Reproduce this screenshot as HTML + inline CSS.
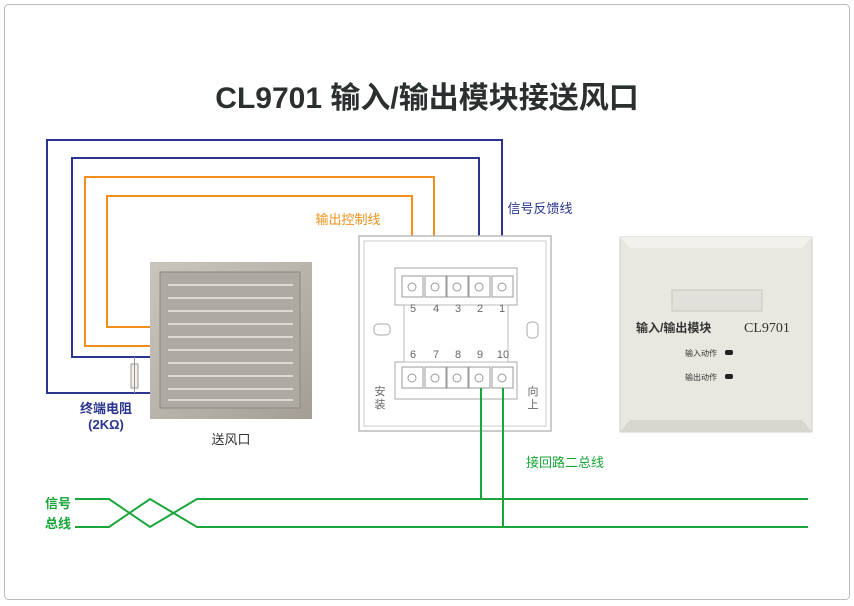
<!DOCTYPE html>
<html><head><meta charset="utf-8"><style>
body{margin:0;width:854px;height:606px;background:#fff;overflow:hidden;font-family:"Liberation Sans","Noto Sans CJK SC",sans-serif}
</style></head><body>
<svg width="854" height="606" xmlns="http://www.w3.org/2000/svg" style="position:absolute;left:0;top:0">
<rect x="4.5" y="4.5" width="845" height="595" rx="4" fill="#fff" stroke="#bbb"/>
<text x="427" y="108" font-size="30" text-anchor="middle" fill="#2b2f2f" font-weight="bold" font-family="Liberation Sans,Noto Sans CJK SC,sans-serif">CL9701 输入/输出模块接送风口</text>
<!-- damper -->
<defs><linearGradient id="g" x1="0" y1="0" x2="1" y2="1"><stop offset="0" stop-color="#c9c5bd"/><stop offset="0.5" stop-color="#b8b4ac"/><stop offset="1" stop-color="#a39e95"/></linearGradient></defs>
<rect x="150" y="262" width="162" height="157" fill="url(#g)"/>
<rect x="160" y="272" width="140" height="136" fill="#aeaaa3" stroke="#8c8780"/>
<g stroke="#dcd9d3" stroke-width="2">
<line x1="168" y1="285" x2="293" y2="285"/><line x1="168" y1="298" x2="293" y2="298"/><line x1="168" y1="311" x2="293" y2="311"/><line x1="168" y1="324" x2="293" y2="324"/><line x1="168" y1="337" x2="293" y2="337"/><line x1="168" y1="350" x2="293" y2="350"/><line x1="168" y1="363" x2="293" y2="363"/><line x1="168" y1="376" x2="293" y2="376"/><line x1="168" y1="389" x2="293" y2="389"/><line x1="168" y1="400" x2="293" y2="400"/></g>
<text x="231" y="444" font-size="13" text-anchor="middle" fill="#333">送风口</text>
<!-- wires -->
<g fill="none" stroke-width="2">
<polyline stroke="#2b3590" points="150,393 47,393 47,140 502,140 502,278"/>
<polyline stroke="#2b3590" points="150,357 72,357 72,158 479,158 479,278"/>
<polyline stroke="#f0901a" points="150,346 85,346 85,177 434,177 434,278"/>
<polyline stroke="#f0901a" points="150,327 107,327 107,196 412,196 412,278"/>
</g>
<!-- resistor -->
<rect x="131" y="364" width="7" height="24" fill="#f3eee6" stroke="#999"/>
<line x1="134.5" y1="357" x2="134.5" y2="393" stroke="#999"/>
<text x="106" y="413" font-size="13" text-anchor="middle" fill="#2b3590" font-weight="bold">终端电阻</text>
<text x="106" y="429" font-size="13" text-anchor="middle" fill="#2b3590" font-weight="bold">(2KΩ)</text>
<text x="348" y="224" font-size="13" text-anchor="middle" fill="#f0901a">输出控制线</text>
<text x="540" y="213" font-size="13" text-anchor="middle" fill="#2b3590">信号反馈线</text>
<!-- module base -->
<rect x="359" y="236" width="192" height="195" fill="#fff" stroke="#bbb" stroke-width="1.5"/>
<rect x="364" y="241" width="182" height="185" fill="none" stroke="#ccc"/>
<rect x="395" y="268" width="122" height="37" fill="#fff" stroke="#aaa"/>
<rect x="395" y="362" width="122" height="37" fill="#fff" stroke="#aaa"/>
<rect x="404" y="305" width="104" height="57" fill="#fff" stroke="#bbb"/>
<rect x="374" y="324" width="16" height="11" rx="4" fill="none" stroke="#aaa"/>
<rect x="527" y="322" width="11" height="16" rx="4" fill="none" stroke="#aaa"/>
<g fill="#fff" stroke="#999">
<rect x="402" y="276" width="21" height="21"/><rect x="425" y="276" width="21" height="21"/><rect x="447" y="276" width="21" height="21"/><rect x="469" y="276" width="21" height="21"/><rect x="492" y="276" width="21" height="21"/>
<rect x="402" y="367" width="21" height="21"/><rect x="425" y="367" width="21" height="21"/><rect x="447" y="367" width="21" height="21"/><rect x="469" y="367" width="21" height="21"/><rect x="492" y="367" width="21" height="21"/>
<circle cx="412" cy="287" r="4"/><circle cx="435" cy="287" r="4"/><circle cx="457" cy="287" r="4"/><circle cx="479" cy="287" r="4"/><circle cx="502" cy="287" r="4"/>
<circle cx="412" cy="378" r="4"/><circle cx="435" cy="378" r="4"/><circle cx="457" cy="378" r="4"/><circle cx="479" cy="378" r="4"/><circle cx="502" cy="378" r="4"/>
</g>
<g font-size="11" fill="#666" text-anchor="middle">
<text x="413" y="312">5</text><text x="436" y="312">4</text><text x="458" y="312">3</text><text x="480" y="312">2</text><text x="502" y="312">1</text>
<text x="413" y="358">6</text><text x="436" y="358">7</text><text x="458" y="358">8</text><text x="480" y="358">9</text><text x="503" y="358">10</text>
<text x="380" y="395">安</text><text x="380" y="408">装</text><text x="533" y="395">向</text><text x="533" y="408">上</text>
</g>
<!-- green -->
<g fill="none" stroke="#1aa63a" stroke-width="2">
<polyline points="481,388 481,500"/><polyline points="503,388 503,527"/>
<polyline points="75,499 109,499 150,527 197,499 808,499"/>
<polyline points="75,527 109,527 150,499 197,527 808,527"/>
</g>
<text x="565" y="467" font-size="13" text-anchor="middle" fill="#1aa63a">接回路二总线</text>
<text x="58" y="508" font-size="13" text-anchor="middle" fill="#1aa63a" font-weight="bold">信号</text>
<text x="58" y="528" font-size="13" text-anchor="middle" fill="#1aa63a" font-weight="bold">总线</text>
<!-- module front -->
<rect x="620" y="237" width="192" height="195" fill="#e8e7e0" stroke="#ccc"/>
<polygon points="620,237 812,237 802,248 630,248" fill="#f2f1ec"/>
<polygon points="620,432 812,432 802,420 630,420" fill="#d7d6cf"/>
<rect x="672" y="290" width="90" height="21" fill="#e1e0da" stroke="#c8c7c0"/>
<text x="636" y="332" font-size="12" fill="#333" font-weight="bold">输入/输出模块</text>
<text x="744" y="332" font-size="14" fill="#333" font-family="Liberation Serif,serif">CL9701</text>
<text x="685" y="356" font-size="8" fill="#333">输入动作</text>
<text x="685" y="380" font-size="8" fill="#333">输出动作</text>
<rect x="725" y="350" width="8" height="5" rx="2" fill="#222"/>
<rect x="725" y="374" width="8" height="5" rx="2" fill="#222"/>
</svg>
</body></html>
